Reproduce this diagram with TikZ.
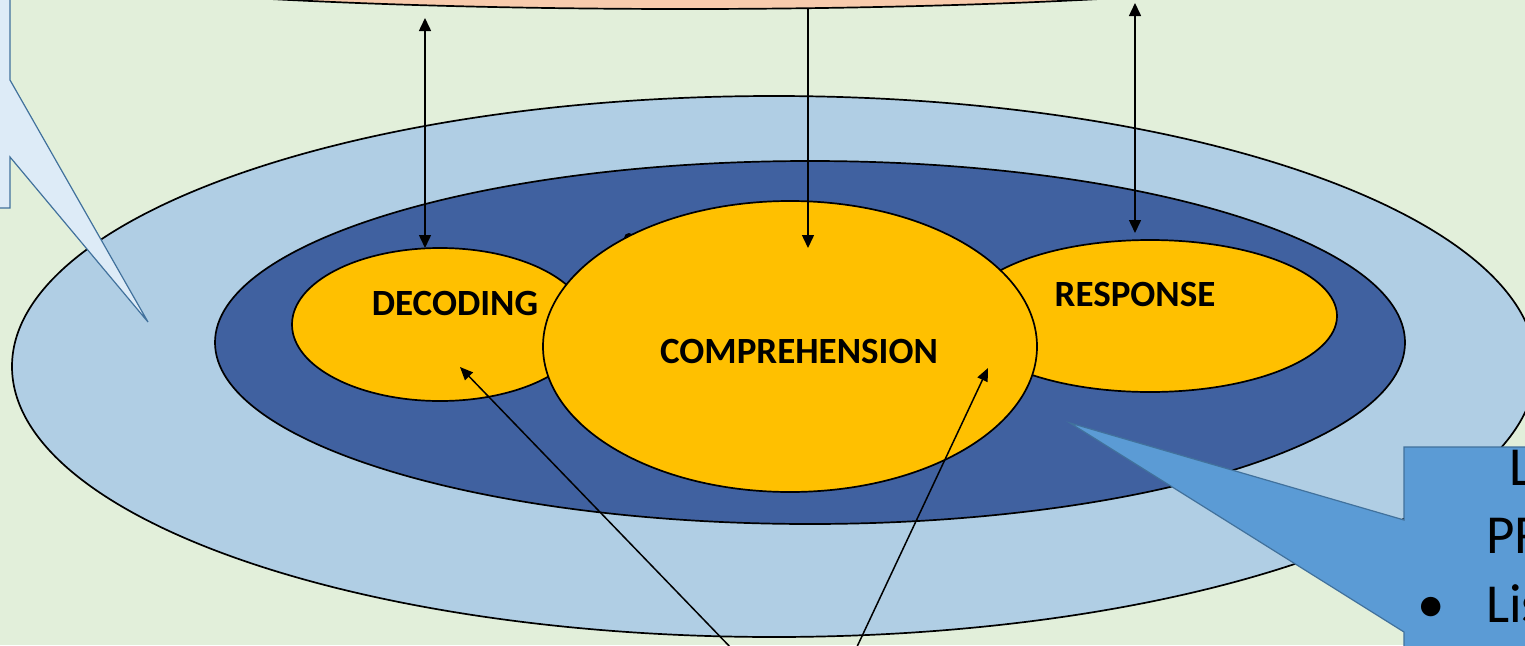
\documentclass[tikz,border=0pt]{standalone}
\usepackage{fontspec}
\setmainfont{Carlito}
\usetikzlibrary{shapes.geometric,arrows.meta}
\definecolor{bgc}{HTML}{E2EFDA}
\definecolor{outerc}{HTML}{B0CEE4}
\definecolor{innerc}{HTML}{4061A0}
\definecolor{goldc}{HTML}{FFC000}
\definecolor{peachc}{HTML}{F8CBAD}
\definecolor{calloutL}{HTML}{DDEBF7}
\definecolor{calloutR}{HTML}{5B9BD5}
\definecolor{callborder}{HTML}{41719C}
\tikzset{
  ell/.style={ellipse, draw=black, line width=1.7pt, inner sep=0pt, outer sep=0pt},
  lab/.style={font=\bfseries\fontsize{37}{40}\selectfont, anchor=base, inner sep=0pt},
  ctext/.style={font=\fontsize{55}{66}\selectfont, anchor=base west, inner sep=0pt},
  conn/.style={line width=1.5pt, -{Triangle[length=13pt,width=12pt]}},
  dconn/.style={line width=1.5pt, {Triangle[length=13pt,width=12pt]}-{Triangle[length=13pt,width=12pt]}},
  bconn/.style={line width=1.5pt, -{Triangle[length=13pt,width=11pt]}},
  callbox/.style={line width=1.2pt, draw=callborder}
}
\begin{document}
\begin{tikzpicture}[x=1pt,y=-1pt]
\useasboundingbox (0,0) rectangle (1525,645);
\clip (0,0) rectangle (1525,645);
\fill[bgc] (0,0) rectangle (1525,645);
% ellipses
\node[ell, fill=outerc, minimum width=1524pt, minimum height=541pt] (outer) at (774,366.5) {};
\node[ell, fill=innerc, minimum width=1190pt, minimum height=363pt] (inner) at (810,342.5) {};
\node[ell, fill=goldc, minimum width=296pt, minimum height=153pt] (dec) at (440,324.5) {};
\node[ell, fill=goldc, minimum width=374pt, minimum height=152pt] (resp) at (1150,316) {};
\node[circle, fill=black, minimum size=10pt, inner sep=0pt] (dot) at (629,238) {};
\node[ell, fill=goldc, minimum width=494pt, minimum height=291pt] (comp) at (790,346.5) {};
% labels
\node[lab] (tdec) at (455,315) {DECODING};
\node[lab] (tcomp) at (799,363) {COMPREHENSION};
\node[lab] (tresp) at (1135,306) {RESPONSE};
% connectors
\coordinate (topL) at (425,18);
\coordinate (topM) at (808,0);
\coordinate (cmid) at (808,248);
\coordinate (topR) at (1135,3);
\coordinate (botL) at (734,651);
\coordinate (botR) at (855,651);
\coordinate (tipD) at (460,367);
\coordinate (tipC) at (988,368);
\draw[dconn] (topL) -- (dec.north -| topL);
\draw[conn] (topM) -- (cmid);
\draw[dconn] (topR) -- ([yshift=7pt]resp.north -| topR);
\draw[bconn] (botL) -- (tipD);
\draw[bconn] (botR) -- (tipC);
% top peach ellipse
\node[ell, fill=peachc, minimum width=1500pt, minimum height=120pt] (peach) at (685,-51) {};
% left callout
\draw[callbox, fill=calloutL] (-5,-5) -- (10,-5) -- (10,80) -- (148,322) -- (10,157) -- (10,208) -- (-5,208) -- cycle;
% right callout
\draw[callbox, fill=calloutR] (1404,447) -- (1404,520) -- (1070,423) -- (1404,632) -- (1404,660) -- (1540,660) -- (1540,447) -- cycle;
\node[ctext] (r1) at (1509,485) {L};
\node[ctext] (r2) at (1486,553) {PR};
\node[ctext, anchor=base] (rb) at (1431,622) {•};
\node[ctext] (r3) at (1486,622) {Lis};
\end{tikzpicture}
\end{document}
